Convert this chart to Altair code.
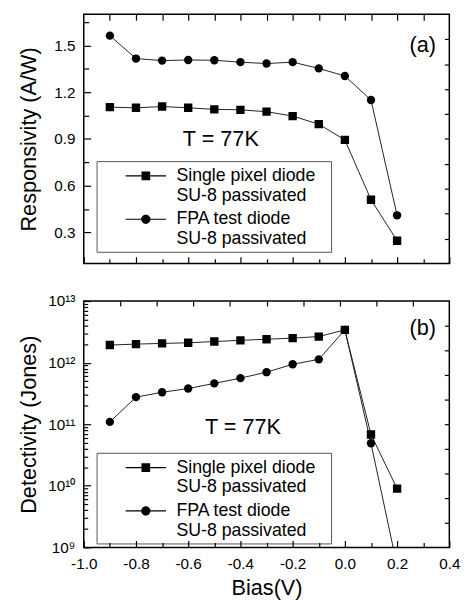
import altair as alt
import pandas as pd

# ---------------- data ----------------
bias = [-0.9, -0.8, -0.7, -0.6, -0.5, -0.4, -0.3, -0.2, -0.1, 0.0, 0.1, 0.2]
resp_single = [1.104, 1.100, 1.108, 1.100, 1.090, 1.087, 1.075, 1.047, 0.995, 0.894, 0.510, 0.247]
resp_fpa = [1.563, 1.416, 1.403, 1.407, 1.405, 1.393, 1.384, 1.393, 1.353, 1.304, 1.150, 0.410]
det_single = [1.93e12, 2.0e12, 2.05e12, 2.1e12, 2.2e12, 2.3e12, 2.4e12, 2.5e12, 2.65e12, 3.4e12, 6.8e10, 9.0e9]
det_fpa = [1.09e11, 2.75e11, 3.3e11, 3.8e11, 4.6e11, 5.6e11, 7.0e11, 9.4e11, 1.13e12, 3.4e12, 4.9e10, 5.0e8]
series_names = ["Single pixel diode|SU-8 passivated", "FPA test diode|SU-8 passivated"]

# tick positions
x_ticks = [-1.0, -0.9, -0.8, -0.7, -0.6, -0.5, -0.4, -0.3, -0.2, -0.1, 0.0, 0.1, 0.2, 0.3, 0.4]
x_top_edge_a = [-0.9, -0.8, -0.7, -0.6, -0.5, -0.4, -0.3, -0.2, -0.1, 0.0, 0.1, 0.2, 0.3]
x_top_edge_b = [-0.86, -0.72, -0.58, -0.44, -0.30, -0.16, -0.02, 0.12, 0.26]
resp_ticks = [0.3, 0.45, 0.6, 0.75, 0.9, 1.05, 1.2, 1.35, 1.5, 1.65]
resp_right_ticks = [0.26, 0.42, 0.58, 0.74, 0.90, 1.06, 1.22, 1.38, 1.54]
det_ticks = [m * 10.0 ** e for e in range(9, 13) for m in range(1, 10)] + [1e13]
det_right_exps = [9.4, 9.8, 10.2, 10.6, 11.0, 11.4, 11.8, 12.2, 12.6]
det_right_ticks = [10.0 ** e for e in det_right_exps]

# annotations
ann_top_bias = [-0.475, 0.298]
ann_top_value = [0.90, 1.50]
ann_top_label = ["T = 77K", "(a)"]
ann_bot_bias = [-0.39, 0.298]
ann_bot_value = [8.9e10, 3.6e12]
ann_bot_label = ["T = 77K", "(b)"]

FONT = "Liberation Sans"
W = 371
H_TOP = 253
H_BOT = 250
TICK_COLOR = "black"

legend_paths = [
    "M-2.05,-0.06H2.05V0.06H-2.05Z M-0.44,-0.44H0.44V0.44H-0.44Z",
    "M-2.05,-0.06H2.05V0.06H-2.05Z M0.47,0A0.47,0.47 0 1,1 -0.47,0A0.47,0.47 0 1,1 0.47,0Z",
]


def long_df(a, b):
    rows = []
    for s, vals in zip(series_names, [a, b]):
        for x, v in zip(bias, vals):
            rows.append({"bias": x, "value": v, "series": s})
    return pd.DataFrame(rows)


def ann_df(xs, ys, labels):
    return pd.DataFrame({"bias": xs, "value": ys, "label": labels})


def tick_axis(orient, offset, values, size):
    return alt.Axis(
        orient=orient,
        offset=offset,
        values=values,
        labels=False,
        domain=False,
        title=None,
        grid=False,
        ticks=True,
        tickSize=size,
        tickColor=TICK_COLOR,
        tickWidth=1.2,
        zindex=3,
    )


def panel(df, ann, xs, ys, legend_y):
    x_lab, x_in, x_edge = xs
    y_lab, y_in, y_right = ys
    lines = (
        alt.Chart(df)
        .mark_line(color="#222", strokeWidth=1, clip=True)
        .encode(x=x_lab, y=y_lab, detail="series:N")
    )
    points = (
        alt.Chart(df)
        .mark_point(filled=True, color="black", size=72, opacity=1, clip=True)
        .encode(
            x=x_in,
            y=y_in,
            shape=alt.Shape(
                "series:N",
                scale=alt.Scale(domain=series_names, range=["square", "circle"]),
                legend=None,
            ),
        )
    )
    legend_layer = (
        alt.Chart(df)
        .transform_filter("false")
        .mark_point(filled=True, color="black", size=400, opacity=1)
        .encode(
            x=x_edge,
            y=y_right,
            shape=alt.Shape(
                "series:N",
                scale=alt.Scale(domain=series_names, range=legend_paths),
                legend=alt.Legend(
                    title=".",
                    titleOrient="right",
                    titleColor="white",
                    titlePadding=6,
                    titleFontSize=18,
                    titleFont=FONT,
                    orient="none",
                    legendX=13,
                    legendY=legend_y,
                    direction="vertical",
                    labelExpr="split(datum.label, '|')",
                    labelFont=FONT,
                    labelFontSize=18,
                    labelColor="black",
                    labelLimit=400,
                    symbolSize=400,
                    symbolOffset=35,
                    labelOffset=20,
                    padding=4,
                    rowPadding=4,
                    strokeColor="#555",
                    symbolFillColor="black",
                ),
            ),
        )
    )
    texts = alt.Chart(ann).mark_text(font=FONT, fontSize=22, color="black").encode(
        x=alt.X("bias:Q", scale=x_scale, axis=None),
        y=alt.Y("value:Q", axis=None),
        text="label:N",
    )
    return (
        alt.layer(lines, points, legend_layer, texts)
        .resolve_scale(shape="independent")
        .resolve_legend(shape="independent")
        .resolve_axis(x="independent", y="independent")
    )


x_minor_test = "round(datum.value*10) % 2 == 0"
x_scale = alt.Scale(domain=[-1.0, 0.4], nice=False, zero=False)
x_tick_size = {"condition": {"test": x_minor_test, "value": 7}, "value": 5}


def xenc(axis):
    return alt.X("bias:Q", scale=x_scale, axis=axis)


x_top_set = (
    xenc(None),
    xenc(tick_axis("top", -H_TOP, x_ticks, x_tick_size)),
    xenc(tick_axis("bottom", -H_TOP, x_top_edge_a, 6)),
)
x_bot_set = (
    xenc(
        alt.Axis(
            orient="bottom",
            values=[-1.0, -0.8, -0.6, -0.4, -0.2, 0.0, 0.2, 0.4],
            labelExpr="replace(format(datum.value, '.1f'), '\u2212', '-')",
            title="Bias(V)",
            titlePadding=6,
            labelPadding=9,
            ticks=False,
            tickSize=0,
            domain=False,
        )
    ),
    xenc(tick_axis("top", -H_BOT, x_ticks, x_tick_size)),
    xenc(tick_axis("bottom", -H_BOT, x_top_edge_b, 5)),
)

y_top_test = "round(datum.value*100) % 30 == 0"
y_top_scale = alt.Scale(domain=[0.1, 1.7], nice=False, zero=False)


def ytop(axis):
    return alt.Y("value:Q", scale=y_top_scale, axis=axis)


y_top_set = (
    ytop(
        alt.Axis(
            orient="left",
            values=[0.3, 0.6, 0.9, 1.2, 1.5],
            format=".1f",
            title="Responsivity (A/W)",
            titleX=-56,
            titleBaseline="middle",
            labelPadding=9,
            ticks=False,
            tickSize=0,
            domain=False,
        )
    ),
    ytop(
        tick_axis(
            "right", -W, resp_ticks, {"condition": {"test": y_top_test, "value": 7}, "value": 5}
        )
    ),
    ytop(tick_axis("left", -W, resp_right_ticks, 5)),
)

log_test = "abs(log(datum.value)/LN10 - round(log(datum.value)/LN10)) < 1e-6"
y_bot_scale = alt.Scale(type="log", domain=[1e9, 1e13], nice=False)


def ybot(axis):
    return alt.Y("value:Q", scale=y_bot_scale, axis=axis)


y_bot_set = (
    ybot(
        alt.Axis(
            orient="left",
            values=[1e9, 1e10, 1e11, 1e12, 1e13],
            labelExpr="['10\u2079','10\u00b9\u2070','10\u00b9\u00b9','10\u00b9\u00b2','10\u00b9\u00b3'][round(log(datum.value)/LN10) - 9]",
            title="Detectivity (Jones)",
            titleX=-56,
            titleBaseline="middle",
            labelPadding=9,
            ticks=False,
            tickSize=0,
            domain=False,
        )
    ),
    ybot(
        tick_axis(
            "right", -W, det_ticks, {"condition": {"test": log_test, "value": 7}, "value": 4}
        )
    ),
    ybot(tick_axis("left", -W, det_right_ticks, 5)),
)

top = panel(
    long_df(resp_single, resp_fpa),
    ann_df(ann_top_bias, ann_top_value, ann_top_label),
    x_top_set,
    y_top_set,
    149,
).properties(width=W, height=H_TOP)

bottom = panel(
    long_df(det_single, det_fpa),
    ann_df(ann_bot_bias, ann_bot_value, ann_bot_label),
    x_bot_set,
    y_bot_set,
    154,
).properties(width=W, height=H_BOT)

chart = (
    alt.vconcat(top, bottom, spacing=28)
    .resolve_scale(x="independent", y="independent", shape="independent")
    .resolve_legend(shape="independent")
    .properties(padding={"left": 17, "top": 8, "right": 10, "bottom": 5}, background="white")
    .configure_view(stroke="black", strokeWidth=1.5)
    .configure_axis(
        grid=False,
        domainColor="black",
        tickColor="black",
        tickWidth=1.2,
        labelFont=FONT,
        labelFontSize=15.5,
        labelColor="black",
        labelOverlap=False,
        labelFlush=False,
        labelBound=False,
        titleFont=FONT,
        titleFontSize=22,
        titleFontWeight="normal",
        titleColor="black",
    )
    .configure_legend(strokeWidth=1)
)

chart.save("out.html", embed_options={"renderer": "svg", "actions": False})
